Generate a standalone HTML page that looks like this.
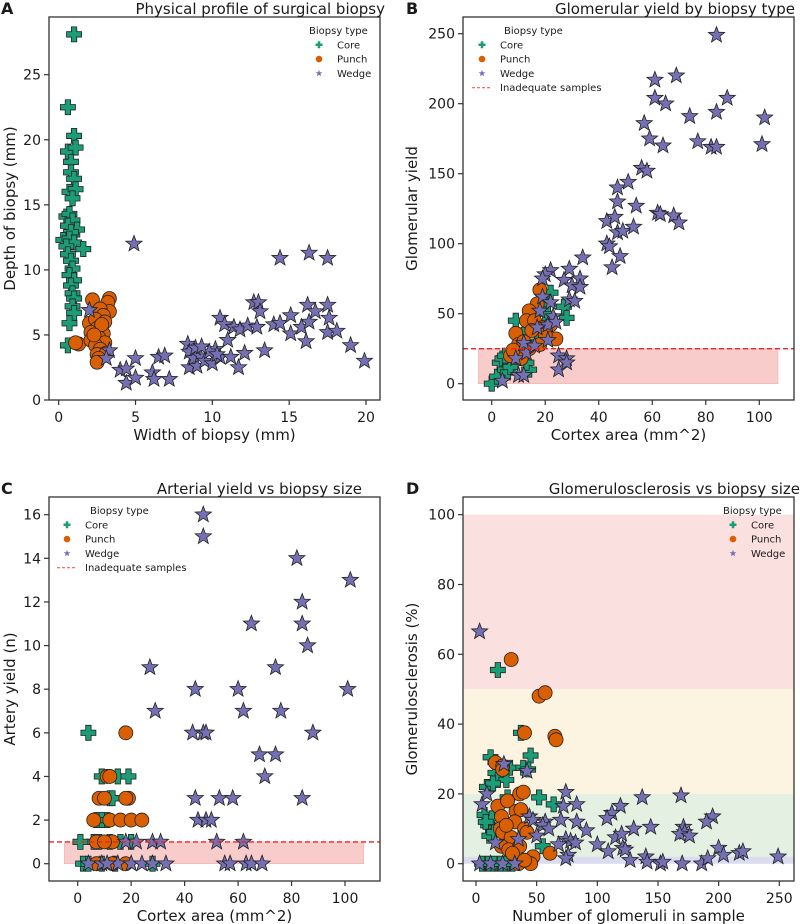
<!DOCTYPE html>
<html><head><meta charset="utf-8"><style>
html,body{margin:0;padding:0;background:#fff}
svg{display:block;font-family:"DejaVu Sans","Liberation Sans",sans-serif}
</style></head><body>
<svg id="fig" width="800" height="924" viewBox="0 0 800 924" xmlns="http://www.w3.org/2000/svg"></svg>
<script>
// Panel A: width vs depth
const aCoreW=[1.0,0.6,1.0,0.6,1.1,0.8,0.8,1.0,0.7,1.1,0.9,0.5,0.7,0.9,0.6,1.2,0.8,0.3,0.7,1.0,0.5,1.6,0.6,0.8,0.9,0.7,1.0,0.8,0.9,1.0,0.9,1.0,0.7,0.6];
const aCoreD=[28.1,22.5,20.3,19.1,19.4,18.3,17.5,17,16,16.2,15.5,14.1,14.3,13.8,13.4,13.1,12.9,12.3,12.4,12.1,11.8,11.6,11.2,10.7,10.1,9.6,9.2,8.8,8.2,7.8,7.2,6.7,5.9,4.2];
const aPunchW=[1.3,1.1,2.2,3.3,3.2,3.3,2.7,2.9,2.0,2.4,3.0,2.5,2.1,2.9,2.6,2.1,3.0,2.4,2.7,2.5,3.1,2.6,2.5,2.8,2.3];
const aPunchD=[4.3,4.4,7.7,7.8,7.5,6.8,7.0,6.5,5.9,6.2,6.0,5.5,5.2,5.1,4.8,4.6,4.4,4.2,3.9,3.5,3.6,3.2,2.9,5.8,5.0];
const aWedgeW=[4.9,14.4,16.3,17.5,2.0,3.3,3.1,4.0,4.4,4.4,5.0,5.0,6.1,6.2,6.5,6.9,7.2,8.4,8.5,8.5,8.8,9.0,9.2,9.5,10.0,10.2,10.5,10.8,10.5,11.0,11.2,11.4,11.7,11.8,12.1,12.3,12.7,12.9,13.0,13.1,13.4,14.0,14.4,15.1,15.1,15.8,16.1,16.2,16.3,16.7,17.5,17.6,17.5,18.1,19.0,19.9,9.8,8.9,10.3,9.3];
const aWedgeD=[12,10.9,11.3,10.9,6.9,3.8,3.2,2.3,2.4,1.3,3.2,1.7,2.1,1.6,3.3,3.4,1.6,4.3,3.7,2.5,3.2,2.6,3.4,3.0,2.8,3.9,6.3,5.8,3.3,4.6,3.3,5.6,2.5,5.4,3.6,5.7,7.5,5.6,7.5,6.8,3.8,5.8,5.9,6.5,5.1,5.6,4.5,7.3,6.0,6.8,7.3,6.3,5.2,5.3,4.2,3.0,3.7,4.0,3.5,4.1];
const aXTicks=[0,5,10,15,20];
const aYTicks=[0,5,10,15,20,25];
// Panel B: cortex area vs glomerular yield
const bCoreX=[0,2,3,4,5,6,7,8,9,12,14,17,20,21,22,27,28,5,10,13];
const bCoreY=[0,5,15,18,10,8,12,20,45,35,10,30,50,57,65,55,47,20,25,15];
const bPunchX=[18,17,14,13,9,10,7,11,16,19,24,20,12,15,11,22,8,14,18];
const bPunchY=[67,57,52,45,36,28,20,22,45,40,32,35,30,38,18,42,24,25,28];
const bWedgeX=[84,61,69,61,65,88,57,74,84,102,59,64,77,82,84,101,56,58,47,51,47,54,62,63,68,70,43,46,47,49,53,43,44,48,45,34,22,20,19,29,27,33,30,33,29,31,19,22,18,23,21,17,24,21,25,28,25,28,10,12,4,9,13,12,16];
const bWedgeY=[249,217,220,204,200,204,186,191,194,190,175,170,173,169,169,171,154,152,140,144,130,127,122,121,120,115,116,119,108,109,112,100,98,91,83,90,81,78,75,82,74,75,70,69,60,59,62,58,52,48,42,40,44,31,20,18,10,15,6,6,2,18,22,29,27];
const bXTicks=[0,20,40,60,80,100];
const bYTicks=[0,50,100,150,200,250];
const bThreshold=[25];
// Panel C: cortex area vs artery yield
const cCoreX=[4,9,15,19,12,9,11,6,8,12,16,2,4,9,14,28,1,20,7,13];
const cCoreY=[6,4,4,4,3,2,2,1,1,1,1,0,0,0,0,0,1,1,2,3];
const cPunchX=[18,11,12,8,10,19,18,6,12,16,20,24,7,13,10,7,13,18];
const cPunchY=[6,4,4,3,3,3,3,2,2,2,2,2,1,1,1,0,0,0];
const cWedgeX=[47,47,82,102,84,65,84,86,27,74,44,60,101,29,62,76,43,47,48,88,68,74,70,44,53,58,84,45,48,50,28,31,52,62,18,22,4,9,15,20,24,28,33,55,57,63,65,69,11];
const cWedgeY=[16,15,14,13,12,11,11,10,9,9,8,8,8,7,7,7,6,6,6,6,5,5,4,3,3,3,3,2,2,2,1,1,1,1,1,1,0,0,0,0,0,0,0,0,0,0,0,0,0];
const cXTicks=[0,20,40,60,80,100];
const cYTicks=[0,2,4,6,8,10,12,14,16];
const cThreshold=[1];
// Panel D: glomeruli count vs glomerulosclerosis
const dCoreX=[18,37,12,45,28,39,43,16,18,25,9,14,52,64,7,10,11,13,15,5,10,15,20,25,30,8,55,26];
const dCoreY=[55.5,37.5,30.5,31,27.5,27.5,27,26,24,24,22,23,19,17,14,11,8,13,9,0,0,0,0,0,0,12,5,19];
const dPunchX=[29,52,57,40,65,66,16,22,22,36,39,18,26,21,33,37,20,22,29,32,40,42,21,27,36,61,47,45,35,40,30,25];
const dPunchY=[58.5,48,49,37.5,36.5,35.5,29,28,27,20,20.5,16.5,18,13.5,15,15.5,10,9,7.5,12,10,9,5,4,5,3,2,0,0,1,3,11];
const dWedgeX=[3,23,42,5,9,74,137,169,72,83,119,112,108,195,190,44,47,57,70,83,55,60,91,130,144,171,172,168,176,115,120,74,78,82,68,100,109,121,123,200,204,217,220,76,74,127,140,141,152,154,170,186,191,249,16,35,50,3,12,22,32];
const dWedgeY=[66.5,28.5,26.5,17,20,20.5,19,19.5,16.5,17,16.5,14.5,13,13.5,12,13.5,12.5,12,12.5,12,11,10,9.5,10,10.5,10.5,9,8.5,8,7.5,8.5,7,6.5,6,5.5,5.5,3.5,4.5,4,4.5,2.5,3,3.5,2.5,1.5,1,2,0.5,0,0.5,0,0,1.5,2,6,7,8,0,0,0,0];
const dXTicks=[0,50,100,150,200,250];
const dYTicks=[0,20,40,60,80,100];
const dBandLo=[50,20,0,0];
const dBandHi=[100,50,20,2];

const NS='http://www.w3.org/2000/svg';
const svg=document.getElementById('fig');
const COL={core:'#1b9e77',punch:'#d95f02',wedge:'#7570b3'};
function mk(tag,attrs,parent){const e=document.createElementNS(NS,tag);for(const k in attrs)e.setAttribute(k,attrs[k]);(parent||svg).appendChild(e);return e;}
function lin(d0,d1,r0,r1){return v=>r0+(v-d0)*(r1-r0)/(d1-d0);}
function starPts(cx,cy,R){const r=R*0.42;let p=[];for(let i=0;i<10;i++){const a=-Math.PI/2+i*Math.PI/5;const rr=i%2?r:R;p.push((cx+rr*Math.cos(a)).toFixed(1)+','+(cy+rr*Math.sin(a)).toFixed(1));}return p.join(' ');}
function plusPath(cx,cy,s){const a=s,b=s*0.36;return `M${cx-b},${cy-a}H${cx+b}V${cy-b}H${cx+a}V${cy+b}H${cx+b}V${cy+a}H${cx-b}V${cy+b}H${cx-a}V${cy-b}H${cx-b}Z`;}
function marker(g,kind,cx,cy,big){
  let e;
  if(kind==='core'){e=mk('path',{d:plusPath(cx,cy,big?7.5:3.5),fill:COL.core,stroke:big?'#222':'none','stroke-width':0.8},g);}
  else if(kind==='punch'){e=mk('circle',{cx:cx,cy:cy,r:big?7:3.3,fill:COL.punch,stroke:big?'#222':'none','stroke-width':0.8},g);}
  else {e=mk('polygon',{points:starPts(cx,cy,big?8.5:3.6),fill:COL.wedge,stroke:big?'#222':'none','stroke-width':0.8},g);}
  return e;
}
function text(g,x,y,s,opts){const t=mk('text',Object.assign({x:x,y:y,fill:'#1a1a1a'},opts||{}),g);t.textContent=s;return t;}

function panel(cfg){
  const g=mk('g',{});
  
  
  const X=lin(cfg.xd[0],cfg.xd[1],cfg.xr[0],cfg.xr[1]);
  const Y=lin(cfg.yd[0],cfg.yd[1],cfg.yr[0],cfg.yr[1]);
  const B=cfg.box;
  if(cfg.bg) cfg.bg(g,X,Y,B);
  cfg.series.forEach(s=>{
    const sg=mk('g',{},g);
    
    
    for(let i=0;i<s.x.length;i++){
      const m=marker(sg,s.kind,X(s.x[i]),Y(s.y[i]),true);
      
      
    }
  });
  if(cfg.fg) cfg.fg(g,X,Y,B);
  const fr=mk('rect',{x:B[0],y:B[1],width:B[2]-B[0],height:B[3]-B[1],fill:'none',stroke:'#333','stroke-width':1.3},g);
  
  
  const xa=mk('g',{},g);
  
  
  cfg.xt.forEach(v=>{const x=X(v);mk('line',{x1:x,x2:x,y1:B[3],y2:B[3]+5,stroke:'#333','stroke-width':1.2},xa);
    const t=text(xa,x,B[3]+22,String(v),{'text-anchor':'middle','font-size':14});
    });
  const ya=mk('g',{},g);
  
  
  cfg.yt.forEach(v=>{const y=Y(v);mk('line',{x1:B[0]-5,x2:B[0],y1:y,y2:y,stroke:'#333','stroke-width':1.2},ya);
    const t=text(ya,B[0]-8,y+5,String(v),{'text-anchor':'end','font-size':14});
    });
  const xl=text(g,(B[0]+B[2])/2,B[3]+40,cfg.xlabel,{'text-anchor':'middle','font-size':15});
  
  const ylx=cfg.ylx, yly=(B[1]+B[3])/2;
  const yl=text(g,ylx,yly,cfg.ylabel,{'text-anchor':'middle','font-size':15,transform:`rotate(-90 ${ylx} ${yly})`});
  
  const tt=text(g,cfg.titleEnd,cfg.titleY,cfg.title,{'text-anchor':'end','font-size':15});
  
  const pl=text(g,cfg.letter[1],cfg.letter[2],cfg.letter[0],{'font-size':16,'font-weight':'bold'});
  
  const L=cfg.legend;
  const lg=mk('g',{},g);
  
  
  text(lg,L.tx,L.ty,'Biopsy type',{'font-size':10});
  const items=[['core','Core'],['punch','Punch'],['wedge','Wedge']];
  items.forEach((it,i)=>{const yy=L.ty+14.3*(i+1);
    const eg=mk('g',{},lg);
    
    
    marker(eg,it[0],L.mx,yy-3.5,false);text(eg,L.lx,yy,it[1],{'font-size':10});});
  if(L.thr){const yy=L.ty+14.3*4;
    const eg=mk('g',{},lg);
    
    
    mk('line',{x1:L.mx-10,x2:L.mx+10,y1:yy-3.5,y2:yy-3.5,stroke:'#ff5555','stroke-width':1.2,'stroke-dasharray':'3,2'},eg);
    text(eg,L.lx,yy,'Inadequate samples',{'font-size':10});}
}

function thresholdBg(thr){
  return (g,X,Y,B)=>{
    const r=mk('rect',{x:X(-5),y:Y(thr[0]),width:X(107)-X(-5),height:Y(0)-Y(thr[0]),fill:'#f8c6c6','fill-opacity':0.9,stroke:'#f0b0b0','stroke-width':0.6},g);
    
    
  };
}
function thresholdFg(thr){
  return (g,X,Y,B)=>{
    const l=mk('line',{x1:B[0],x2:B[2],y1:Y(thr[0]),y2:Y(thr[0]),stroke:'#ee2222','stroke-width':1.4,'stroke-dasharray':'5,3'},g);
    
    
  };
}

panel({name:'panel-a',box:[49,17,380,400],xd:[0,20],xr:[58.7,366],yd:[0,25],yr:[400,74.7],xt:aXTicks,yt:aYTicks,
  xlabel:'Width of biopsy (mm)',ylabel:'Depth of biopsy (mm)',ylx:15,title:'Physical profile of surgical biopsy',titleEnd:385,titleY:14,letter:['A',1,14],
  legend:{tx:309,ty:34,mx:319,lx:337},
  series:[{name:'core-series',kind:'core',x:aCoreW,y:aCoreD},{name:'punch-series',kind:'punch',x:aPunchW,y:aPunchD},{name:'wedge-series',kind:'wedge',x:aWedgeW,y:aWedgeD}]});

panel({name:'panel-b',box:[463,17,794,400],xd:[0,100],xr:[491.7,759.3],yd:[0,250],yr:[383.7,33.7],xt:bXTicks,yt:bYTicks,
  xlabel:'Cortex area (mm^2)',ylabel:'Glomerular yield',ylx:417,title:'Glomerular yield by biopsy type',titleEnd:795,titleY:14,letter:['B',406,14],
  legend:{tx:504,ty:34,mx:482,lx:500,thr:true},bg:thresholdBg(bThreshold),fg:thresholdFg(bThreshold),
  series:[{name:'core-series',kind:'core',x:bCoreX,y:bCoreY},{name:'punch-series',kind:'punch',x:bPunchX,y:bPunchY},{name:'wedge-series',kind:'wedge',x:bWedgeX,y:bWedgeY}]});

panel({name:'panel-c',box:[49,497,380,881],xd:[0,100],xr:[77.7,345],yd:[0,16],yr:[863.7,514.7],xt:cXTicks,yt:cYTicks,
  xlabel:'Cortex area (mm^2)',ylabel:'Artery yield (n)',ylx:15,title:'Arterial yield vs biopsy size',titleEnd:362,titleY:494,letter:['C',1,494],
  legend:{tx:90,ty:514,mx:67,lx:85,thr:true},bg:thresholdBg(cThreshold),fg:thresholdFg(cThreshold),
  series:[{name:'core-series',kind:'core',x:cCoreX,y:cCoreY},{name:'punch-series',kind:'punch',x:cPunchX,y:cPunchY},{name:'wedge-series',kind:'wedge',x:cWedgeX,y:cWedgeY}]});

panel({name:'panel-d',box:[463,497,794,881],xd:[0,250],xr:[476,779.3],yd:[0,100],yr:[863.7,514.7],xt:dXTicks,yt:dYTicks,
  xlabel:'Number of glomeruli in sample',ylabel:'Glomerulosclerosis (%)',ylx:417,title:'Glomerulosclerosis vs biopsy size',titleEnd:800,titleY:494,letter:['D',406,494],
  legend:{tx:723,ty:514,mx:733,lx:751},
  bg:(g,X,Y,B)=>{const cols=['#fbe0e0','#fdf3e1','#e4f1e2','#dcdcf0'];const names=['severe-band','moderate-band','mild-band','minimal-band'];
    for(let i=0;i<dBandLo.length;i++){const r=mk('rect',{x:B[0],y:Y(dBandHi[i]),width:B[2]-B[0],height:Y(dBandLo[i])-Y(dBandHi[i]),fill:cols[i]},g);
      
      }},
  series:[{name:'core-series',kind:'core',x:dCoreX,y:dCoreY},{name:'punch-series',kind:'punch',x:dPunchX,y:dPunchY},{name:'wedge-series',kind:'wedge',x:dWedgeX,y:dWedgeY}]});
</script>
</body></html>
